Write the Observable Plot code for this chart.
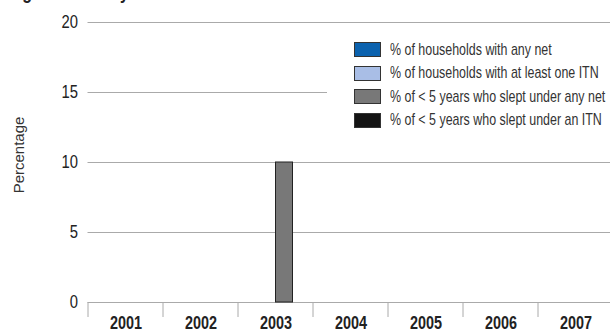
<!DOCTYPE html>
<html><head><meta charset="utf-8">
<script src="https://cdn.jsdelivr.net/npm/d3@7"></script>
<script src="https://cdn.jsdelivr.net/npm/@observablehq/plot@0.6"></script>
<style>
body{margin:0;background:#fff;}
#wrap{position:relative;width:610px;height:334px;overflow:hidden;font-family:"Liberation Sans",Arial,sans-serif;color:#222;}
#title{position:absolute;left:8px;top:-18px;font-size:20px;line-height:20px;font-weight:bold;white-space:nowrap;transform:scaleX(0.8);transform-origin:left top;}
#ylabel{position:absolute;left:18px;top:155px;transform:translate(-50%,-50%) rotate(-90deg);font-size:15px;color:#333;white-space:nowrap;}
#legend{position:absolute;left:327px;top:30px;width:283px;height:110px;background:#fff;}
.item{position:absolute;left:27px;height:16px;display:flex;align-items:center;font-size:17px;color:#333;white-space:nowrap;}
.sw{width:25px;height:13px;border:1px solid #333;margin-right:9px;box-sizing:content-box;flex:none;}
.tx{display:inline-block;transform-origin:left center;}
#chart{position:absolute;left:0;top:0;}
#chart [aria-label^="x-axis"] text{font-weight:bold;font-size:18px;}
</style>
</head><body>
<div id="wrap">
  <div id="chart"></div>
  <div id="title">Figure 5: ITN by Year</div>
  <div id="ylabel">Percentage</div>
  <div id="legend"></div>
</div>
<script>
const years = ["2001","2002","2003","2004","2005","2006","2007"];
const seriesNames = [
  "% of households with any net",
  "% of households with at least one ITN",
  "% of < 5 years who slept under any net",
  "% of < 5 years who slept under an ITN"
];
const hhAnyNet   = [null,null,null,null,null,null,null];
const hhOneITN   = [null,null,null,null,null,null,null];
const u5AnyNet   = [null,null,10,null,null,null,null];
const u5ITN      = [null,null,null,null,null,null,null];
const seriesColors = ["#0b62ae","#a9bee6","#787878","#141414"];
const yTicks = [0,5,10,15,20];

const seriesValues = [hhAnyNet, hhOneITN, u5AnyNet, u5ITN];
const rows = [];
seriesValues.forEach((vals, si) => vals.forEach((v, yi) => rows.push({year: years[yi], series: seriesNames[si], idx: si, value: v})));

const band = 75, groupPad = 3.5, barW = 17;

function boundaryTicks(index, scales) {
  const g = d3.create("svg:g").attr("aria-label","x-boundaries");
  const y0 = scales.y(0);
  for (const yr of years) {
    const x0 = scales.x(yr);
    g.append("line").attr("x1", x0).attr("x2", x0).attr("y1", y0).attr("y2", y0 + 15)
      .attr("stroke", "#aaa").attr("stroke-width", 1);
  }
  return g.node();
}

const chart = Plot.plot({
  width: 610,
  height: 334,
  marginLeft: 87.5,
  marginRight: -2.5,
  marginTop: 22,
  marginBottom: 32,
  style: {fontSize: "18.5px", fontFamily: '"Liberation Sans",Arial,sans-serif', color: "#222", background: "#fff"},
  x: {domain: years, padding: 0, tickSize: 0, tickPadding: 14, label: null},
  y: {domain: [0, 20], ticks: yTicks, tickSize: 0, tickPadding: 10, label: null},
  color: {domain: seriesNames, range: seriesColors},
  marks: [
    Plot.ruleY(yTicks, {stroke: "#aaa", strokeWidth: 1}),
    ...seriesNames.map((s, i) => Plot.barY(rows.filter(r => r.series === s && r.value != null), {
      x: "year", y: "value", fill: "series", stroke: "#222", strokeWidth: 1,
      insetLeft: groupPad + barW * i, insetRight: band - groupPad - barW * (i + 1)
    })),
    boundaryTicks
  ]
});
document.getElementById("chart").appendChild(chart);

function condense(sel, k) {
  chart.querySelectorAll(sel).forEach(t => {
    const L = t.getComputedTextLength();
    t.setAttribute("textLength", L * k);
    t.setAttribute("lengthAdjust", "spacingAndGlyphs");
  });
}
condense('[aria-label^="y-axis"] text', 0.8);
condense('[aria-label^="x-axis"] text', 0.8);

const legend = document.getElementById("legend");
const spans = [];
seriesNames.forEach((s, i) => {
  const it = document.createElement("div");
  it.className = "item";
  it.style.top = (11.5 + 23.6 * i) + "px";
  const sw = document.createElement("div");
  sw.className = "sw";
  sw.style.background = seriesColors[i];
  const tx = document.createElement("span");
  tx.className = "tx";
  tx.textContent = s;
  it.appendChild(sw); it.appendChild(tx);
  legend.appendChild(it);
  spans.push(tx);
});
// condensed type: longest legend line spans about 215px in the reference
const maxW = Math.max(...spans.map(s => s.offsetWidth));
const k = 215 / maxW;
spans.forEach(s => s.style.transform = `scaleX(${k})`);
</script>
</body></html>
